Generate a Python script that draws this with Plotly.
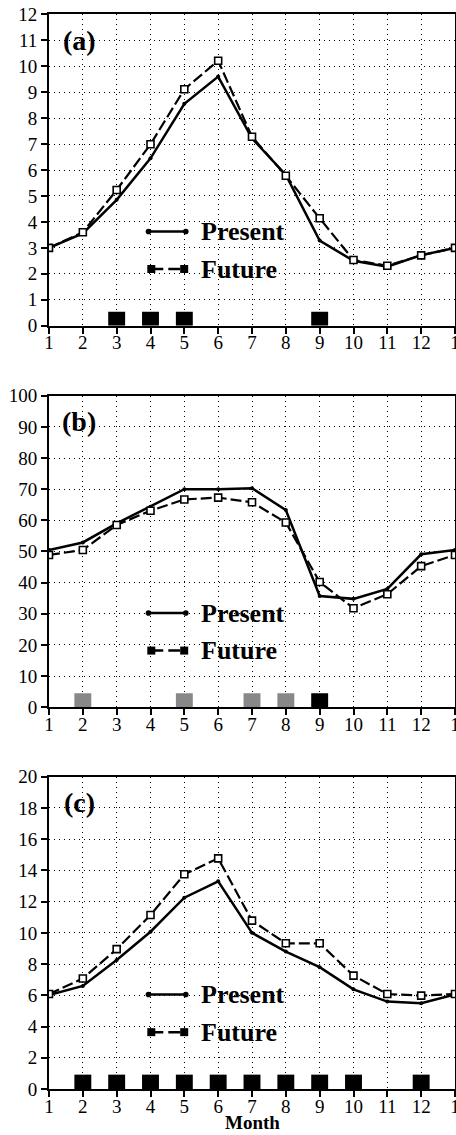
import plotly.graph_objects as go

# ---------------- data ----------------
months = list(range(1, 14))
month_labels = ["1", "2", "3", "4", "5", "6", "7", "8", "9", "10", "11", "12", "1"]

present_a = [3.0, 3.56, 4.85, 6.45, 8.55, 9.6, 7.22, 5.81, 3.28, 2.5, 2.27, 2.72, 3.0]
future_a = [3.0, 3.6, 5.23, 6.99, 9.11, 10.21, 7.28, 5.78, 4.14, 2.53, 2.31, 2.71, 3.0]
sig_black_a = [3, 4, 5, 9]
sig_gray_a = []

present_b = [50.5, 52.9, 59.0, 64.4, 70.0, 70.0, 70.3, 63.3, 35.7, 34.8, 38.0, 49.1, 50.5]
future_b = [48.9, 50.5, 58.5, 63.1, 66.7, 67.3, 65.8, 59.3, 40.2, 31.8, 36.3, 45.3, 48.9]
sig_black_b = [9]
sig_gray_b = [2, 5, 7, 8]

present_c = [6.02, 6.6, 8.26, 10.07, 12.25, 13.3, 10.0, 8.8, 7.8, 6.38, 5.6, 5.49, 6.05]
future_c = [6.08, 7.08, 8.96, 11.14, 13.75, 14.77, 10.78, 9.33, 9.33, 7.26, 6.08, 5.98, 6.08]
sig_black_c = [2, 3, 4, 5, 6, 7, 8, 9, 10, 12]
sig_gray_c = []

panel_labels = ["(a)", "(b)", "(c)"]
y_ranges = [[0, 12], [0, 100], [0, 20]]
y_dticks = [1, 10, 2]
series_names = ["Present", "Future"]
x_title = "Month"

# ---------------- styles ----------------
SIG_HEIGHT = [0.54, 4.5, 0.92]   # marker box height in each panel's units
SIG_WIDTH = 0.5
GRAY = "#888888"
TICK_FONT = dict(family="Liberation Serif", size=19, color="black")
Y_DOMAINS = [[0.71304, 0.98740], [0.37683, 0.65137], [0.04053, 0.31568]]

panels = [
    (present_a, future_a, sig_black_a, sig_gray_a),
    (present_b, future_b, sig_black_b, sig_gray_b),
    (present_c, future_c, sig_black_c, sig_gray_c),
]

fig = go.Figure()
shapes = []
annotations = []

for i, (pres, fut, sb, sg) in enumerate(panels):
    n = "" if i == 0 else str(i + 1)
    xa, ya = "x" + n, "y" + n
    for sig, col in ((sb, "black"), (sg, GRAY)):
        if sig:
            fig.add_trace(go.Bar(
                x=sig, y=[SIG_HEIGHT[i]] * len(sig), width=SIG_WIDTH,
                marker=dict(color=col, line=dict(width=0)),
                xaxis=xa, yaxis=ya, showlegend=False, hoverinfo="skip"))
    fig.add_trace(go.Scatter(
        x=months, y=pres, mode="lines+markers", name=series_names[0],
        line=dict(color="black", width=2.5),
        marker=dict(symbol="circle", size=4, color="black"),
        xaxis=xa, yaxis=ya, showlegend=False))
    fig.add_trace(go.Scatter(
        x=months, y=fut, mode="lines+markers", name=series_names[1],
        line=dict(color="black", width=2.2, dash="11px,4px"),
        marker=dict(symbol="square", size=7, color="white",
                    line=dict(color="black", width=1.6)),
        xaxis=xa, yaxis=ya, showlegend=False))

    xkey = "xaxis" + n
    ykey = "yaxis" + n
    fig.update_layout(**{
        xkey: dict(
            domain=[0, 1], anchor=ya, range=[1, 13],
            tickmode="array", tickvals=months, ticktext=month_labels,
            ticks="outside", ticklen=6, tickwidth=1.5, tickcolor="black",
            tickfont=TICK_FONT, ticklabeloverflow="allow", ticklabelstandoff=-7,
            showline=True, linewidth=2, linecolor="black", mirror=True,
            showgrid=True, gridcolor="black", gridwidth=1, griddash="1px,4px",
            zeroline=False, automargin=False,
        ),
        ykey: dict(
            domain=Y_DOMAINS[i], anchor=xa, range=y_ranges[i],
            tickmode="linear", tick0=0, dtick=y_dticks[i],
            ticks="outside", ticklen=6, tickwidth=1.5, tickcolor="black",
            tickfont=TICK_FONT,
            showline=True, linewidth=2, linecolor="black", mirror=True,
            showgrid=True, gridcolor="black", gridwidth=1, griddash="1px,4px",
            zeroline=False, automargin=False,
        ),
    })

    xd, yd = xa + " domain", ya + " domain"
    # panel label
    annotations.append(dict(
        text=panel_labels[i], xref=xd, yref=yd, x=0.074, y=0.917,
        xanchor="center", yanchor="middle", showarrow=False,
        font=dict(family="Liberation Serif", size=28, color="black", weight="bold")))
    # legend: Present
    yp, yf = 0.3025, 0.182
    shapes.append(dict(type="line", xref=xd, yref=yd, x0=0.245, x1=0.337, y0=yp, y1=yp,
                       line=dict(color="black", width=2.5)))
    for xx in (0.245, 0.337):
        shapes.append(dict(type="circle", xref=xd, yref=yd, xsizemode="pixel", ysizemode="pixel",
                           xanchor=xx, yanchor=yp, x0=-2.8, x1=2.8, y0=-2.8, y1=2.8,
                           fillcolor="black", line=dict(color="black", width=0)))
    # legend: Future
    shapes.append(dict(type="line", xref=xd, yref=yd, x0=0.252, x1=0.333, y0=yf, y1=yf,
                       line=dict(color="black", width=2.5, dash="12px,5px")))
    for xx in (0.252, 0.333):
        shapes.append(dict(type="rect", xref=xd, yref=yd, xsizemode="pixel", ysizemode="pixel",
                           xanchor=xx, yanchor=yf, x0=-4, x1=4, y0=-4, y1=4,
                           fillcolor="black", line=dict(color="black", width=0)))
    for name, yy in ((series_names[0], yp), (series_names[1], yf)):
        annotations.append(dict(
            text=name, xref=xd, yref=yd, x=0.37, y=yy,
            xanchor="left", yanchor="middle", showarrow=False,
            font=dict(family="Liberation Serif", size=26, color="black", weight="bold")))

# x-axis title below the bottom panel
annotations.append(dict(
    text=x_title, xref="x3 domain", yref="paper", x=0.5, y=0.0,
    xanchor="center", yanchor="bottom", showarrow=False,
    font=dict(family="Liberation Serif", size=19, color="black", weight="bold")))

fig.update_layout(
    width=456, height=1135,
    margin=dict(l=49, r=1, t=0, b=0),
    paper_bgcolor="white", plot_bgcolor="white",
    barmode="overlay", showlegend=False,
    shapes=shapes, annotations=annotations,
)

fig.write_html("out.html")
